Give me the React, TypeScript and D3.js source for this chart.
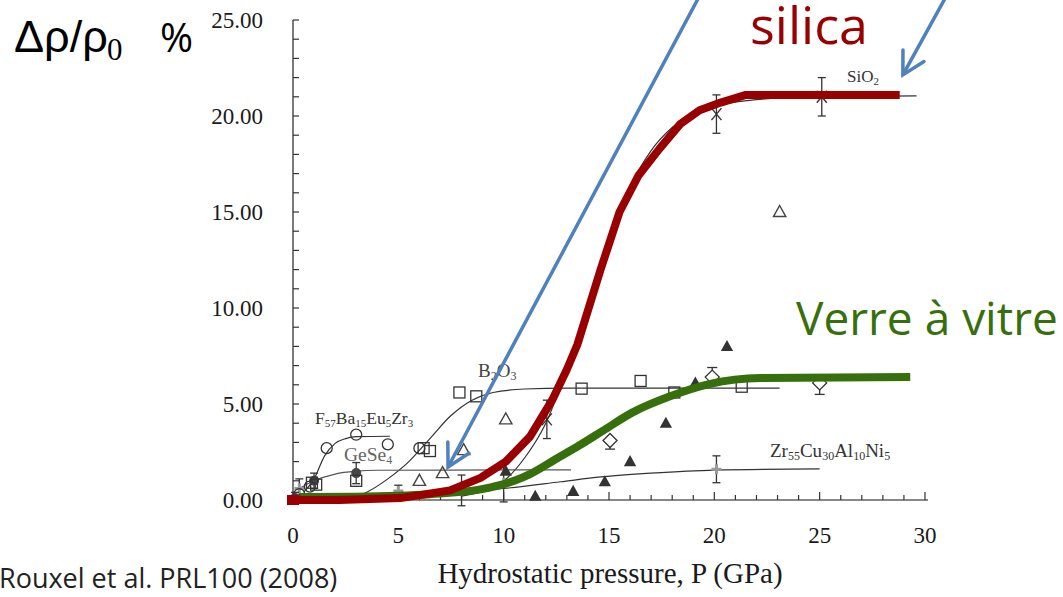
import * as d3 from "d3";

// pressure (GPa) ticks and density change (%) ticks
const xTicks = [0, 5, 10, 15, 20, 25, 30];
const yTicks = [0, 5, 10, 15, 20, 25];

// hand-drawn overlays (silica in red, window glass in green)
const silicaCurve: [number, number][] = [
  [0, 0], [2.2, 0], [5.1, 0.1], [7.45, 0.5], [8.9, 1.15], [10.1, 2.0],
  [11.25, 3.3], [12.3, 5.2], [13.0, 6.8], [13.5, 8.1], [14.6, 12.0],
  [15.5, 15.0], [16.4, 16.9], [17.4, 18.3], [18.4, 19.6], [19.3, 20.3],
  [20.3, 20.7], [21.5, 21.1], [28.8, 21.1],
];
const verreCurve: [number, number][] = [
  [0.33, 0.15], [3, 0.17], [6.5, 0.3], [8.9, 0.55], [10.5, 1.0],
  [11.25, 1.35], [12.5, 2.15], [13.6, 2.85], [14.7, 3.6], [16.1, 4.55],
  [17.9, 5.4], [19.8, 6.05], [22.2, 6.35], [29.3, 6.4],
];

// fitted curves from the paper
const sio2Fit: [number, number][] = [
  [8, 0.2], [10, 1.0], [11, 2.2], [12, 4.0], [13, 6.8], [14, 10.0],
  [15, 13.5], [16, 16.3], [17, 18.2], [18, 19.4], [19, 20.1], [20, 20.5],
  [22, 20.85], [24, 21.0], [29.6, 21.05],
];
const b2o3Fit: [number, number][] = [
  [2.6, 0.0], [3.5, 0.4], [4.5, 1.1], [5.5, 2.0], [6.5, 3.2], [7.5, 4.4],
  [8.5, 5.2], [9.5, 5.6], [11, 5.78], [13, 5.83], [23.1, 5.83],
];
const fbaFit: [number, number][] = [
  [0.5, 0.4], [1.0, 1.1], [1.5, 2.3], [2.0, 2.95], [2.5, 3.2], [3, 3.3], [4.6, 3.32],
];
const geseFit: [number, number][] = [
  [0.3, 0.6], [1, 1.0], [2, 1.35], [3, 1.5], [4, 1.55], [13.2, 1.57],
];
const zrFit: [number, number][] = [
  [2.5, 0.02], [5, 0.15], [8, 0.38], [10, 0.6], [12.7, 0.95], [14.6, 1.2],
  [17, 1.4], [20, 1.56], [25, 1.62],
];

// measured points: [P, drho, err]
const sio2Pts: [number, number, number][] = [
  [12.05, 4.2, 1.0], [20.1, 20.1, 1.0], [25.1, 21.0, 1.0],
];
const b2o3Pts: [number, number][] = [
  [0.9, 0.9], [1.1, 0.8], [3.0, 1.0], [6.2, 2.7], [6.5, 2.55], [7.9, 5.6],
  [8.7, 5.4], [13.7, 5.8], [16.5, 6.2], [18.1, 5.6], [21.3, 5.9],
];
const openTriPts: [number, number][] = [
  [6.0, 1.0], [7.1, 1.4], [8.1, 2.6], [10.1, 4.2], [23.1, 15.0],
];
const filledTriPts: [number, number][] = [
  [10.1, 1.5], [11.5, 0.2], [13.3, 0.45], [14.8, 0.95], [16.0, 2.0],
  [17.7, 4.0], [19.1, 6.1], [20.6, 8.0],
];
const openCirclePts: [number, number][] = [
  [0.3, 0.3], [0.8, 0.7], [1.6, 2.7], [3.0, 3.4], [4.5, 2.9], [6.0, 2.7],
];
const gesePts: [number, number, number][] = [
  [0.1, 0.1, 0.3], [1.0, 1.0, 0.4], [3.0, 1.4, 0.55],
];
const diamondPts: [number, number, number][] = [
  [15.05, 3.1, -0.45], [19.9, 6.4, 0.5], [25.0, 6.1, -0.6],
];
const zrPts: [number, number, number][] = [
  [0.3, 0.6, 0.5], [5.0, 0.47, 0.3], [8.0, 0.5, 0.8], [10.0, 0.9, 1.0], [20.1, 1.6, 0.7],
];

const W = 1063;
const H = 597;
const serif = "'Liberation Serif', 'Times New Roman', serif";
const sans = "'Open Sans', 'Noto Sans', sans-serif";
const INK = "#333";
const BLUE = "#4f81bd";
const RED = "#990000";
const GREEN = "#376f0c";

const x = d3.scaleLinear().domain([0, 30]).range([293, 925]);
const y = d3.scaleLinear().domain([0, 25]).range([500, 20]);

const fitLine = d3
  .line<[number, number]>()
  .x((d) => x(d[0]))
  .y((d) => y(d[1]))
  .curve(d3.curveMonotoneX);
const polyLine = d3
  .line<[number, number]>()
  .x((d) => x(d[0]))
  .y((d) => y(d[1]))
  .curve(d3.curveLinear);

function ErrBar({ px, py, e }: { px: number; py: number; e: number }) {
  const cx = x(px);
  const y0 = y(py - e);
  const y1 = y(py + e);
  return (
    <g stroke={INK} strokeWidth={1.3}>
      <line x1={cx} x2={cx} y1={y0} y2={y1} />
      <line x1={cx - 4} x2={cx + 4} y1={y0} y2={y0} />
      <line x1={cx - 4} x2={cx + 4} y1={y1} y2={y1} />
    </g>
  );
}

function Arrow({ from, to }: { from: [number, number]; to: [number, number] }) {
  const x0 = x(from[0]);
  const y0 = y(from[1]);
  const x1 = x(to[0]);
  const y1 = y(to[1]);
  const ang = Math.atan2(y0 - y1, x0 - x1);
  const len = 25;
  const a1 = ang + 0.5;
  const a2 = ang - 0.5;
  const d = `M${x1 + len * Math.cos(a1)},${y1 + len * Math.sin(a1)}L${x1},${y1}L${x1 + len * Math.cos(a2)},${y1 + len * Math.sin(a2)}`;
  return (
    <g stroke={BLUE} strokeWidth={3.5} fill="none" strokeLinecap="round">
      <line x1={x0} y1={y0} x2={x1 + 2 * Math.cos(ang)} y2={y1 + 2 * Math.sin(ang)} />
      <path d={d} strokeLinejoin="miter" />
    </g>
  );
}

export default function App() {
  const minorX = d3.range(0, 31, 1);
  const minorY = d3.range(0, 26, 1);
  const tri = (cx: number, cy: number, s: number) =>
    `M${cx},${cy - s}L${cx + s * 0.95},${cy + s * 0.7}L${cx - s * 0.95},${cy + s * 0.7}Z`;

  return (
    <svg
      width={W}
      height={H}
      viewBox={`0 0 ${W} ${H}`}
      style={{ position: "absolute", left: 0, top: 0, background: "#fff" }}
    >
      {/* y axis */}
      <line x1={x(0)} x2={x(0)} y1={y(25)} y2={y(0)} stroke={INK} strokeWidth={1.3} />
      {minorY.map((v) => (
        <line key={`my${v}`} x1={x(0)} x2={x(0) + 6} y1={y(v)} y2={y(v)} stroke={INK} strokeWidth={1.2} />
      ))}
      {yTicks.map((v) => (
        <text
          key={`yt${v}`}
          x={263}
          y={y(v)}
          dy="0.35em"
          textAnchor="end"
          fontFamily={serif}
          fontSize={23}
          fill="#1a1a1a"
        >
          {d3.format(".2f")(v)}
        </text>
      ))}

      {/* x axis */}
      <line x1={x(0)} x2={x(30) + 3} y1={y(0)} y2={y(0)} stroke="#888" strokeWidth={2.2} />
      {minorX.map((v) => (
        <line
          key={`mx${v}`}
          x1={x(v)}
          x2={x(v)}
          y1={y(0)}
          y2={y(0) - (v % 5 === 0 ? 8 : 5)}
          stroke={INK}
          strokeWidth={1.2}
        />
      ))}
      {xTicks.map((v) => (
        <text key={`xt${v}`} x={x(v)} y={543} textAnchor="middle" fontFamily={serif} fontSize={23} fill="#1a1a1a">
          {v}
        </text>
      ))}
      <text x={610} y={583} textAnchor="middle" fontFamily={serif} fontSize={29} fill="#1a1a1a">
        Hydrostatic pressure, P (GPa)
      </text>

      {/* fitted curves */}
      <g fill="none" stroke={INK} strokeWidth={1.2}>
        <path d={fitLine(sio2Fit) ?? ""} />
        <path d={fitLine(b2o3Fit) ?? ""} />
        <path d={fitLine(fbaFit) ?? ""} />
        <path d={fitLine(geseFit) ?? ""} stroke="#555" />
        <path d={fitLine(zrFit) ?? ""} />
      </g>

      {/* measured points */}
      {zrPts.map(([px, py, e], i) => (
        <g key={`zr${i}`}>
          <ErrBar px={px} py={py} e={e} />
          <g stroke="#999" strokeWidth={3}>
            <line x1={x(px) - 5} x2={x(px) + 5} y1={y(py)} y2={y(py)} />
            <line x1={x(px)} x2={x(px)} y1={y(py) - 5} y2={y(py) + 5} />
          </g>
        </g>
      ))}
      {sio2Pts.map(([px, py, e], i) => (
        <g key={`si${i}`}>
          <ErrBar px={px} py={py} e={e} />
          <g stroke={INK} strokeWidth={1.4}>
            <line x1={x(px) - 5} x2={x(px) + 5} y1={y(py) - 6} y2={y(py) + 6} />
            <line x1={x(px) + 5} x2={x(px) - 5} y1={y(py) - 6} y2={y(py) + 6} />
          </g>
        </g>
      ))}
      {gesePts.map(([px, py, e], i) => (
        <g key={`ge${i}`}>
          <ErrBar px={px} py={py} e={e} />
          <circle cx={x(px)} cy={y(py)} r={5} fill="#444" />
        </g>
      ))}
      {b2o3Pts.map(([px, py], i) => (
        <rect
          key={`b${i}`}
          x={x(px) - 5.5}
          y={y(py) - 5.5}
          width={11}
          height={11}
          fill="none"
          stroke={INK}
          strokeWidth={1.3}
        />
      ))}
      {openCirclePts.map(([px, py], i) => (
        <circle key={`oc${i}`} cx={x(px)} cy={y(py)} r={5.5} fill="none" stroke={INK} strokeWidth={1.3} />
      ))}
      {openTriPts.map(([px, py], i) => (
        <path key={`ot${i}`} d={tri(x(px), y(py), 6.5)} fill="none" stroke="#444" strokeWidth={1.4} />
      ))}
      {filledTriPts.map(([px, py], i) => (
        <path key={`ft${i}`} d={tri(x(px), y(py), 6.5)} fill="#333" />
      ))}
      {diamondPts.map(([px, py, e], i) => {
        const cx = x(px);
        const cy = y(py);
        const ce = y(py + e);
        return (
          <g key={`di${i}`} stroke={INK} strokeWidth={1.3} fill="none">
            <line x1={cx} x2={cx} y1={cy} y2={ce} />
            <line x1={cx - 5} x2={cx + 5} y1={ce} y2={ce} />
            <path d={`M${cx},${cy - 7}L${cx + 7},${cy}L${cx},${cy + 7}L${cx - 7},${cy}Z`} fill="#fff" />
          </g>
        );
      })}

      {/* curve labels */}
      <text x={847} y={82} fontFamily={serif} fontSize={17} fill="#333">
        SiO<tspan fontSize={11} dy={3}>2</tspan>
      </text>
      <text x={478} y={377} fontFamily={serif} fontSize={19} fill="#444">
        B<tspan fontSize={12} dy={3}>2</tspan>
        <tspan dy={-3}>O</tspan>
        <tspan fontSize={12} dy={3}>3</tspan>
      </text>
      <text x={315} y={424} fontFamily={serif} fontSize={17.5} fill="#333">
        F<tspan fontSize={11} dy={3}>57</tspan>
        <tspan dy={-3}>Ba</tspan>
        <tspan fontSize={11} dy={3}>15</tspan>
        <tspan dy={-3}>Eu</tspan>
        <tspan fontSize={11} dy={3}>5</tspan>
        <tspan dy={-3}>Zr</tspan>
        <tspan fontSize={11} dy={3}>3</tspan>
      </text>
      <text x={344} y={461} fontFamily={serif} fontSize={19.5} fill="#666">
        GeSe<tspan fontSize={12} dy={3}>4</tspan>
      </text>
      <text x={770} y={457} fontFamily={serif} fontSize={19} fill="#333">
        Zr<tspan fontSize={12} dy={3}>55</tspan>
        <tspan dy={-3}>Cu</tspan>
        <tspan fontSize={12} dy={3}>30</tspan>
        <tspan dy={-3}>Al</tspan>
        <tspan fontSize={12} dy={3}>10</tspan>
        <tspan dy={-3}>Ni</tspan>
        <tspan fontSize={12} dy={3}>5</tspan>
      </text>

      {/* overlays */}
      <path
        d={fitLine(verreCurve) ?? ""}
        fill="none"
        stroke={GREEN}
        strokeWidth={8}
        strokeLinejoin="round"
      />
      <path
        d={polyLine(silicaCurve) ?? ""}
        fill="none"
        stroke={RED}
        strokeWidth={8}
        strokeLinejoin="round"
      />
      <rect x={x(0) - 6} y={y(0) - 5} width={12} height={10} fill={RED} />

      <Arrow from={[19.32, 26.3]} to={[7.36, 1.72]} />
      <Arrow from={[31.04, 26.3]} to={[28.95, 22.14]} />

      {/* annotations */}
      <text x={14} y={52} fontFamily="'Liberation Sans', Arial, sans-serif" fontSize={45} fill="#000">
        Δρ/ρ
      </text>
      <text x={107} y={60} fontFamily={serif} fontSize={31} fill="#000">
        0
      </text>
      <text x={160} y={52} fontFamily={sans} fontSize={40} fill="#000">
        %
      </text>
      <text x={750} y={44} fontFamily={sans} fontSize={52} fill={RED}>
        silica
      </text>
      <text x={796} y={335} fontFamily={sans} fontSize={46} fill={GREEN}>
        Verre à vitre
      </text>
      <text x={-1} y={588} fontFamily={sans} fontSize={27} fill="#222">
        Rouxel et al. PRL100 (2008)
      </text>
    </svg>
  );
}
